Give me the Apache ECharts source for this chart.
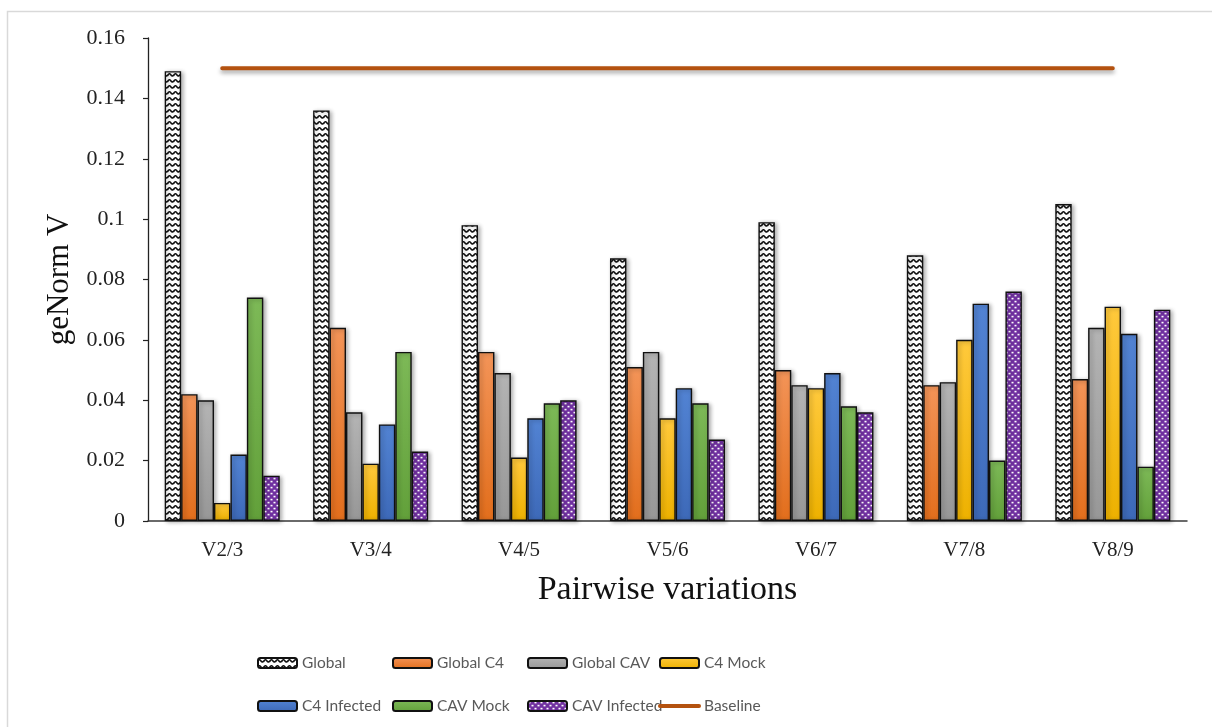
<!DOCTYPE html>
<html>
<head>
<meta charset="utf-8">
<title>geNorm pairwise variations</title>
<script src="https://cdn.jsdelivr.net/npm/echarts@6/dist/echarts.min.js"></script>
<style>
  html, body { margin: 0; padding: 0; background: #ffffff; }
  #chart { width: 1212px; height: 727px; }
</style>
</head>
<body>
<div id="chart"></div>
<script>
// Pairwise variation categories and geNorm V values per gene set
const categories = ['V2/3', 'V3/4', 'V4/5', 'V5/6', 'V6/7', 'V7/8', 'V8/9'];
const globalAll   = [0.149, 0.136, 0.098, 0.087, 0.099, 0.088, 0.105];
const globalC4    = [0.042, 0.064, 0.056, 0.051, 0.050, 0.045, 0.047];
const globalCAV   = [0.040, 0.036, 0.049, 0.056, 0.045, 0.046, 0.064];
const c4Mock      = [0.006, 0.019, 0.021, 0.034, 0.044, 0.060, 0.071];
const c4Infected  = [0.022, 0.032, 0.034, 0.044, 0.049, 0.072, 0.062];
const cavMock     = [0.074, 0.056, 0.039, 0.039, 0.038, 0.020, 0.018];
const cavInfected = [0.015, 0.023, 0.040, 0.027, 0.036, 0.076, 0.070];
const baseline    = [0.15, 0.15, 0.15, 0.15, 0.15, 0.15, 0.15];
const yTicks = { min: 0, max: 0.16, step: 0.02 };

// Wavy hatch: black waves on white
function wavePattern() {
  const c = document.createElement('canvas');
  c.width = 6; c.height = 6;
  const g = c.getContext('2d');
  g.fillStyle = '#ffffff';
  g.fillRect(0, 0, 6, 6);
  g.strokeStyle = '#111111';
  g.lineWidth = 1.6;
  g.beginPath();
  g.moveTo(-0.5, 3.8);
  g.quadraticCurveTo(1.5, 0.2, 3, 3);
  g.quadraticCurveTo(4.5, 5.2, 6.5, 2.2);
  g.stroke();
  return c;
}

// Purple fill with small white dots in a checker layout
function dotPattern() {
  const c = document.createElement('canvas');
  c.width = 6; c.height = 6;
  const g = c.getContext('2d');
  g.fillStyle = '#7030A0';
  g.fillRect(0, 0, 6, 6);
  g.fillStyle = '#ffffff';
  g.fillRect(0.5, 0.8, 2, 1.6);
  g.fillRect(3.5, 3.8, 2, 1.6);
  return c;
}

function vgrad(top, bottom) {
  return {
    type: 'linear', x: 0, y: 0, x2: 0, y2: 1,
    colorStops: [{ offset: 0, color: top }, { offset: 1, color: bottom }]
  };
}

const barShadow = {
  borderColor: '#111111',
  borderWidth: 1.4,
  shadowColor: 'rgba(0,0,0,0.32)',
  shadowBlur: 4,
  shadowOffsetX: 2,
  shadowOffsetY: 1
};

function barSeries(name, data, color) {
  return {
    name: name,
    type: 'bar',
    data: data,
    barGap: '0%',
    barCategoryGap: '22.5%',
    itemStyle: Object.assign({ color: color }, barShadow)
  };
}

const wave = { image: wavePattern(), repeat: 'repeat' };
const dots = { image: dotPattern(), repeat: 'repeat' };

const legendText = { fontFamily: 'Lato', fontSize: 15.5, color: '#595959' };
function legendCol(left, names) {
  return {
    orient: 'vertical',
    left: left,
    top: 655,
    padding: 0,
    itemWidth: 39,
    itemHeight: 10,
    itemGap: 27,
    textStyle: legendText,
    data: names
  };
}

const chart = echarts.init(document.getElementById('chart'), null, { renderer: 'canvas' });

chart.setOption({
  backgroundColor: '#ffffff',
  animation: false,
  graphic: [{
    type: 'rect',
    silent: true,
    shape: { x: 7.5, y: 11.5, width: 1240, height: 740 },
    style: { fill: 'none', stroke: '#d9d9d9', lineWidth: 1.5 }
  }],
  legend: [
    legendCol(257, ['Global', 'C4 Infected']),
    legendCol(392, ['Global C4', 'CAV Mock']),
    legendCol(527, ['Global CAV', 'CAV Infected']),
    legendCol(658, ['C4 Mock', {
      name: 'Baseline',
      itemStyle: { color: 'rgba(0,0,0,0)', borderWidth: 0 },
      lineStyle: { width: 4, color: '#B4520F', cap: 'round' }
    }])
  ],
  grid: { left: 148, right: 25, top: 38, bottom: 206, containLabel: false },
  xAxis: {
    type: 'category',
    data: categories,
    name: 'Pairwise variations',
    nameLocation: 'middle',
    nameGap: 52,
    nameTextStyle: { fontFamily: 'Liberation Serif', fontSize: 34, color: '#111111' },
    axisLine: { lineStyle: { color: '#3a3a3a', width: 1.5 } },
    axisTick: { show: false },
    axisLabel: { fontFamily: 'Liberation Serif', fontSize: 21, color: '#222222', margin: 19 },
    splitLine: { show: false }
  },
  yAxis: {
    type: 'value',
    min: yTicks.min,
    max: yTicks.max,
    interval: yTicks.step,
    name: 'geNorm V',
    nameLocation: 'middle',
    nameGap: 73,
    nameTextStyle: { fontFamily: 'Liberation Serif', fontSize: 31, color: '#111111' },
    axisLine: { show: true, lineStyle: { color: '#222222', width: 1.3 } },
    axisTick: { show: true, length: 5, lineStyle: { color: '#222222', width: 1.2 } },
    axisLabel: { fontFamily: 'Liberation Serif', fontSize: 22, color: '#222222', margin: 23 },
    splitLine: { show: false }
  },
  series: [
    barSeries('Global', globalAll, wave),
    barSeries('Global C4', globalC4, vgrad('#F39458', '#E26E1C')),
    barSeries('Global CAV', globalCAV, vgrad('#B4B4B4', '#979797')),
    barSeries('C4 Mock', c4Mock, vgrad('#FFC93C', '#EDB100')),
    barSeries('C4 Infected', c4Infected, vgrad('#5283D3', '#3D69B8')),
    barSeries('CAV Mock', cavMock, vgrad('#7DB957', '#62A03A')),
    barSeries('CAV Infected', cavInfected, dots),
    {
      name: 'Baseline',
      type: 'line',
      data: baseline,
      symbol: 'none',
      lineStyle: {
        color: '#B4520F',
        width: 4,
        cap: 'round',
        shadowColor: 'rgba(0,0,0,0.35)',
        shadowBlur: 4,
        shadowOffsetY: 3
      },
      itemStyle: { color: '#B4520F' },
      z: 3
    }
  ]
});
</script>
</body>
</html>
